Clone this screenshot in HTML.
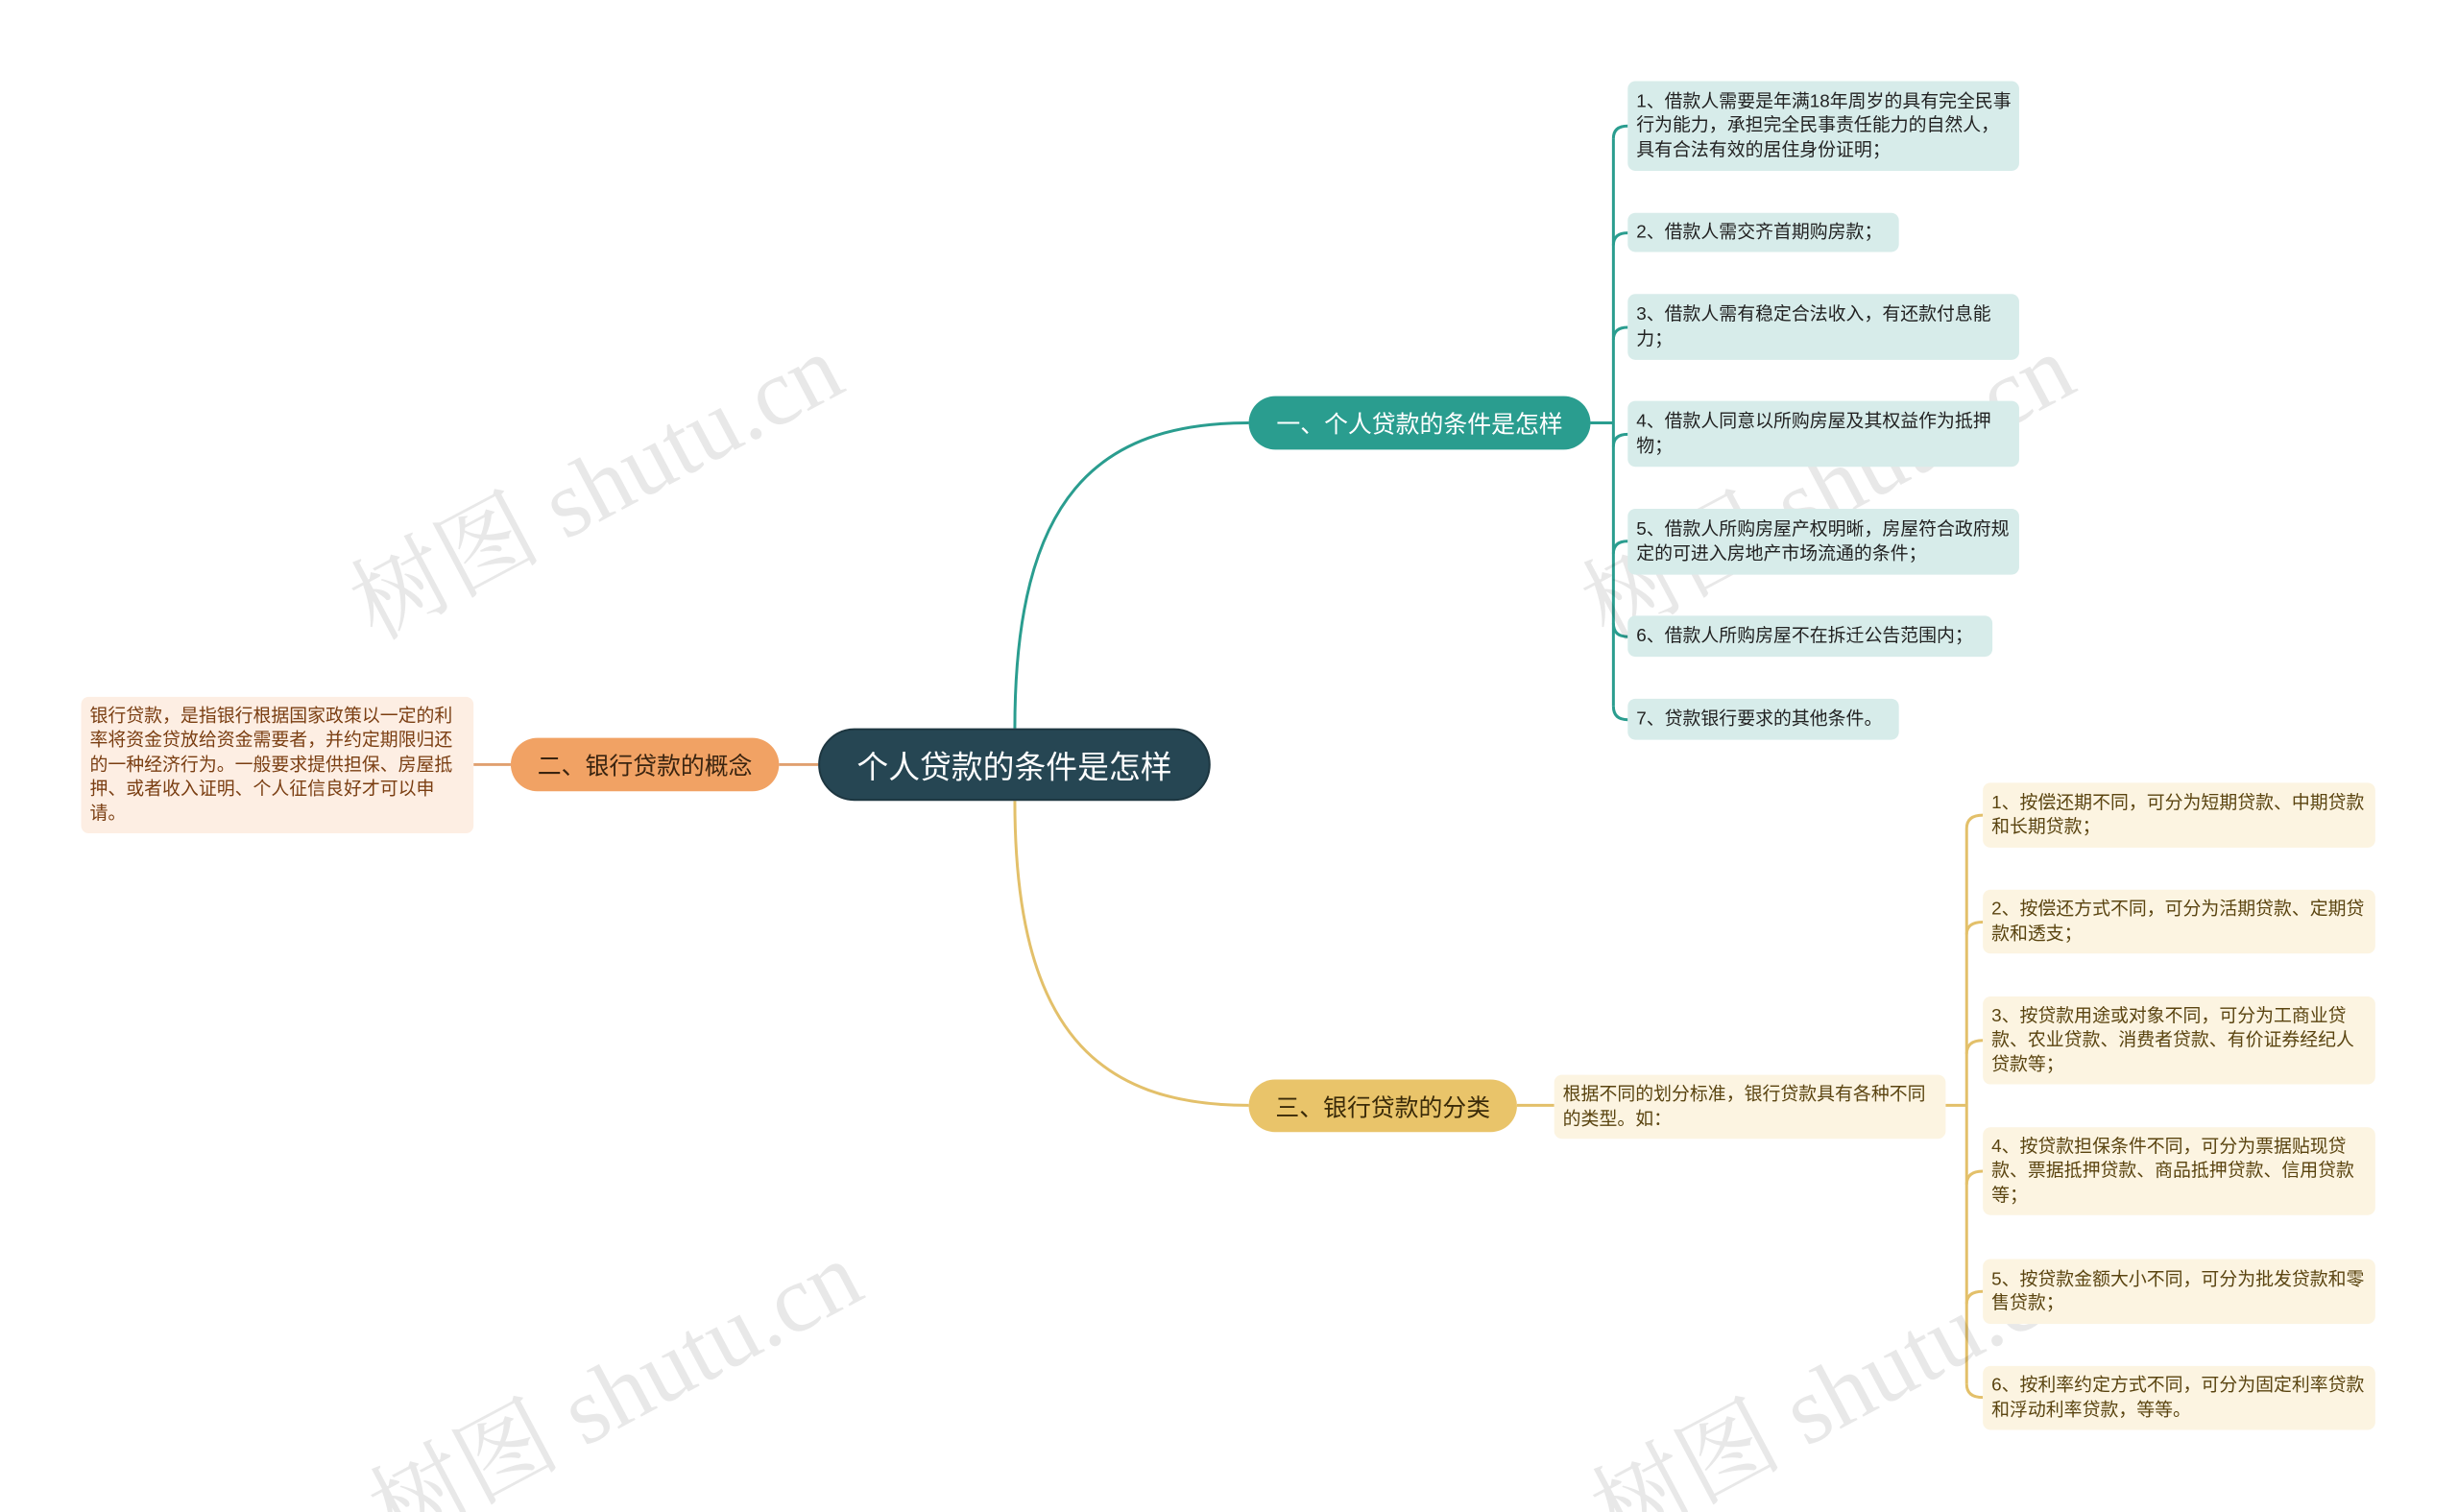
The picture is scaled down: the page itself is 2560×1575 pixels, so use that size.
<!DOCTYPE html>
<html style="overflow:hidden;width:2560px;height:1575px"><head><meta charset="utf-8"><style>
body{margin:0;width:2560px;height:1575px;background:#fff;position:relative;overflow:hidden;font-family:"Liberation Sans","Noto Sans CJK SC",sans-serif}
#w{position:absolute;left:0;top:0;width:2560px;height:1575px;transform:scale(0.9943);transform-origin:0 0}
.n{position:absolute;box-sizing:border-box;display:flex;align-items:center;justify-content:center;border-radius:28px;white-space:nowrap}
.l{position:absolute;box-sizing:border-box;border-radius:8px;font-size:19px;line-height:25.5px;padding:6px 7px 6px 9px;display:flex;align-items:center}
.t{background:#d7ecea;color:#222}
.y{background:#fcf4e1;color:#5a4410}
.wm{position:absolute;font-family:"Liberation Serif","Noto Serif CJK SC",serif;font-size:100px;color:rgba(0,0,0,0.09);transform:rotate(-28deg);white-space:nowrap;transform-origin:center}
</style></head><body><div id="w">
<svg width="2560" height="1575" style="position:absolute;left:0;top:0">
<g fill="none" stroke-width="3">
<path d="M1063 763 C1063 520,1150 443,1308 443" stroke="#2a9d8f"/>
<path d="M1666 443 H1690" stroke="#2a9d8f"/>
<path d="M1690 145 V740" stroke="#2a9d8f"/>
<path d="M1690 145 Q1690 132 1705 132 M1690 257 Q1690 244 1705 244 M1690 356 Q1690 343 1705 343 M1690 468 Q1690 455 1705 455 M1690 580 Q1690 567 1705 567 M1690 653 Q1690 667 1705 667 M1690 740 Q1690 754 1705 754" stroke="#2a9d8f"/>
<path d="M1063 839 C1063 1080,1150 1158,1308 1158" stroke="#e3c06a"/>
<path d="M1589 1158 H1628 M2038 1158 H2060" stroke="#e3c06a"/>
<path d="M2060 868 V1450" stroke="#e3c06a"/>
<path d="M2060 868 Q2060 854 2077 854 M2060 979 Q2060 966 2077 966 M2060 1104 Q2060 1090 2077 1090 M2060 1241 Q2060 1227 2077 1227 M2060 1366 Q2060 1353 2077 1353 M2060 1450 Q2060 1464 2077 1464" stroke="#e3c06a"/>
<path d="M857 801 H816 M535 801 H496" stroke="#e0a070"/>
</g></svg>
<div class="wm" style="left:340px;top:430px">树图 shutu.cn</div>
<div class="wm" style="left:1630px;top:430px">树图 shutu.cn</div>
<div class="wm" style="left:360px;top:1380px">树图 shutu.cn</div>
<div class="wm" style="left:1640px;top:1380px">树图 shutu.cn</div>

<div class="n" style="left:857px;top:763px;width:411px;height:76px;background:#264653;color:#fff;font-size:33px;border-radius:38px;border:2px solid #1d3640">个人贷款的条件是怎样</div>
<div class="n" style="left:1308px;top:415px;width:358px;height:56px;background:#2a9d8f;color:#fff;font-size:25px">一、个人贷款的条件是怎样</div>
<div class="n" style="left:535px;top:773px;width:281px;height:56px;background:#f1a264;color:#3a2410;font-size:25px">二、银行贷款的概念</div>
<div class="n" style="left:1308px;top:1131px;width:281px;height:55px;background:#e9c46a;color:#3a2a08;font-size:25px">三、银行贷款的分类</div>

<div class="l" style="left:85px;top:730px;width:411px;height:143px;background:#fdeee3;color:#7a3e12">银行贷款，是指银行根据国家政策以一定的利率将资金贷放给资金需要者，并约定期限归还的一种经济行为。一般要求提供担保、房屋抵押、或者收入证明、个人征信良好才可以申请。</div>

<div class="l t" style="left:1705px;top:85px;width:410px;height:94px">1、借款人需要是年满18年周岁的具有完全民事行为能力，承担完全民事责任能力的自然人，具有合法有效的居住身份证明；</div>
<div class="l t" style="left:1705px;top:223px;width:284px;height:41px">2、借款人需交齐首期购房款；</div>
<div class="l t" style="left:1705px;top:308px;width:410px;height:69px">3、借款人需有稳定合法收入，有还款付息能力；</div>
<div class="l t" style="left:1705px;top:420px;width:410px;height:69px">4、借款人同意以所购房屋及其权益作为抵押物；</div>
<div class="l t" style="left:1705px;top:533px;width:410px;height:69px">5、借款人所购房屋产权明晰，房屋符合政府规定的可进入房地产市场流通的条件；</div>
<div class="l t" style="left:1705px;top:645px;width:382px;height:43px">6、借款人所购房屋不在拆迁公告范围内；</div>
<div class="l t" style="left:1705px;top:732px;width:284px;height:43px">7、贷款银行要求的其他条件。</div>

<div class="l y" style="left:1628px;top:1126px;width:410px;height:67px">根据不同的划分标准，银行贷款具有各种不同的类型。如：</div>
<div class="l y" style="left:2077px;top:820px;width:411px;height:68px">1、按偿还期不同，可分为短期贷款、中期贷款和长期贷款；</div>
<div class="l y" style="left:2077px;top:932px;width:411px;height:67px">2、按偿还方式不同，可分为活期贷款、定期贷款和透支；</div>
<div class="l y" style="left:2077px;top:1044px;width:411px;height:92px">3、按贷款用途或对象不同，可分为工商业贷款、农业贷款、消费者贷款、有价证券经纪人贷款等；</div>
<div class="l y" style="left:2077px;top:1181px;width:411px;height:92px">4、按贷款担保条件不同，可分为票据贴现贷款、票据抵押贷款、商品抵押贷款、信用贷款等；</div>
<div class="l y" style="left:2077px;top:1319px;width:411px;height:68px">5、按贷款金额大小不同，可分为批发贷款和零售贷款；</div>
<div class="l y" style="left:2077px;top:1431px;width:411px;height:67px">6、按利率约定方式不同，可分为固定利率贷款和浮动利率贷款，等等。</div>
</div></body></html>
